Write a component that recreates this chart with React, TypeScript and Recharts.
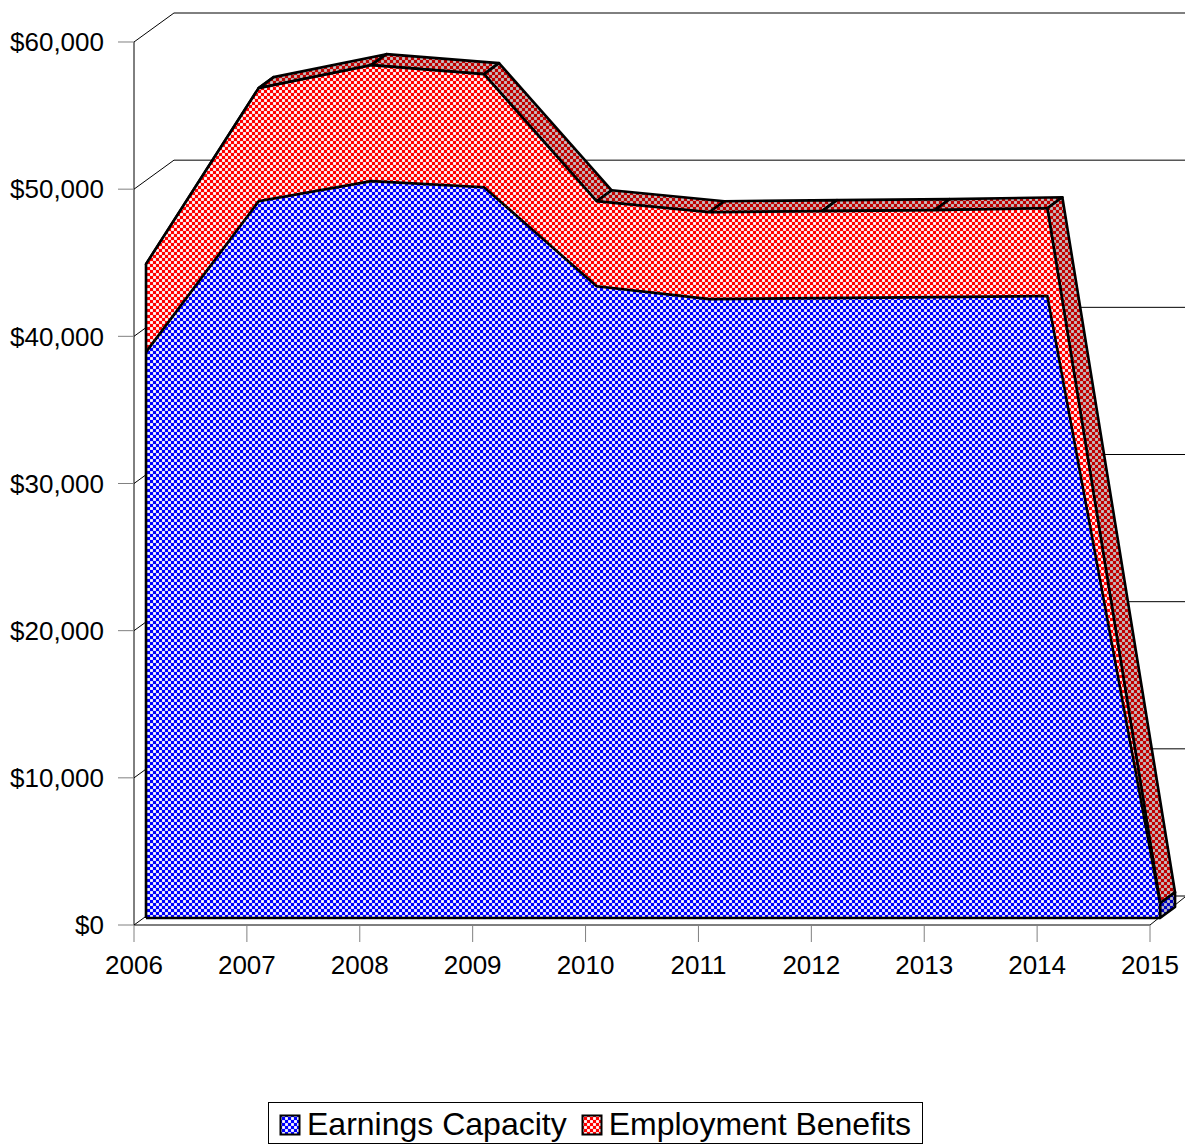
import React from 'react';
import {
    AreaChart,
    Area,
    XAxis,
    YAxis,
    Legend,
    ReferenceLine,
} from 'recharts';

const YEARS = [2006, 2007, 2008, 2009, 2010, 2011, 2012, 2013, 2014, 2015];
const EARNINGS = [38450, 48700, 50070, 49660, 42930, 42050, 42120, 42190, 42260, 1000];
const BENEFITS = [5980, 7690, 7880, 7680, 5770, 5910, 5910, 5910, 5970, 0];
const DOLLAR_TICKS = [0, 10000, 20000, 30000, 40000, 50000, 60000];

const SERIES_NAMES = ['Earnings Capacity', 'Employment Benefits'];

const chartData = YEARS.map((year, i) => ({
    year,
    earnings: EARNINGS[i],
    benefits: BENEFITS[i],
    total: EARNINGS[i] + BENEFITS[i],
}));

// depth of the extruded band, in pixels
const DEPTH_X = 15;
const DEPTH_Y = -11;

// the walls sit behind the axes by this much, in axis units
const WALL_X = 0.354;
const WALL_Y = 1970;
const X_MAX = 2015.31;
const Y_MAX = 61970;

// stacking order of the layers
const Z_WALLS = 50;
const Z_FACES = 100;
const Z_BENEFITS = 700;
const Z_EARNINGS = 750;
const Z_EDGES = 800;

const money = (v: number) => `$${v.toLocaleString('en-US')}`;

const Checker = ({ id, on, off }: { id: string; on: string; off: string }) => (
    <pattern id={id} width={6} height={6} patternUnits="userSpaceOnUse">
        <rect width={6} height={6} fill={on} />
        <rect x={3.1} y={0.1} width={2.8} height={2.8} fill={off} />
        <rect x={0.1} y={3.1} width={2.8} height={2.8} fill={off} />
    </pattern>
);

// Draws the side face leaving each point, plus the end cap on the last one.
const FaceDot = (props: any) => {
    const { cx, cy, index, points, payload } = props;
    if (!points || cx == null) return null;
    const next = points[index + 1];
    const outline = { stroke: '#000', strokeWidth: 2.6, strokeLinejoin: 'round' as const };
    if (next) {
        const d = `M${cx},${cy}L${next.x},${next.y}L${next.x + DEPTH_X},${next.y + DEPTH_Y}L${cx + DEPTH_X},${cy + DEPTH_Y}Z`;
        return <path key={index} d={d} fill="url(#sideRed)" {...outline} />;
    }
    const first = points[0];
    const perDollar = (cy - first.y) / (chartData[0].total - payload.total);
    const base = cy + payload.total * perDollar;
    const cap = `M${cx},${cy}L${cx},${base}L${cx + DEPTH_X},${base + DEPTH_Y}L${cx + DEPTH_X},${cy + DEPTH_Y}Z`;
    return <path key={index} d={cap} fill="url(#sideBlue)" {...outline} />;
};

const LegendBox = () => (
    <div
        style={{
            display: 'flex',
            alignItems: 'center',
            boxSizing: 'border-box',
            width: 655,
            height: 42,
            paddingTop: 3,
            border: '1px solid #000',
            fontSize: 32,
            color: '#000',
            whiteSpace: 'nowrap',
        }}
    >
        {SERIES_NAMES.map((name, i) => (
            <React.Fragment key={name}>
                <svg width={22} height={22} style={{ marginLeft: i === 0 ? 10 : 14, marginRight: 6 }}>
                    <rect x={1.5} y={1.5} width={19} height={19} fill={i === 0 ? 'url(#frontBlue)' : 'url(#frontRed)'} stroke="#000" strokeWidth={2} />
                </svg>
                <span>{name}</span>
            </React.Fragment>
        ))}
    </div>
);

export default function App() {
    const lineProps = { stroke: '#000', strokeWidth: 1, zIndex: Z_WALLS };
    const edgeProps = { stroke: '#000', strokeWidth: 2.6 };
    const lastYear = YEARS[YEARS.length - 1];
    const lastTotal = chartData[chartData.length - 1].total;

    return (
        <div style={{ position: 'absolute', left: 0, top: 0, fontFamily: '"Liberation Sans", Arial, sans-serif' }}>
            <AreaChart
                width={1185}
                height={1145}
                data={chartData}
                margin={{ top: 13, right: 0, bottom: 0, left: 0 }}
            >
                <defs>
                    <Checker id="frontBlue" on="#0000ff" off="#ffffff" />
                    <Checker id="frontRed" on="#ff0000" off="#ffffff" />
                    <Checker id="sideRed" on="#c00000" off="#c4c4c4" />
                    <Checker id="sideBlue" on="#0000c0" off="#c4c4c4" />
                </defs>

                <XAxis
                    dataKey="year"
                    type="number"
                    domain={[2006, X_MAX]}
                    ticks={YEARS}
                    allowDataOverflow
                    height={177}
                    axisLine={false}
                    tickLine={{ stroke: '#808080' }}
                    tickSize={17}
                    tickMargin={14}
                    tick={{ fontSize: 26, fill: '#000' }}
                />
                <YAxis
                    type="number"
                    domain={[0, Y_MAX]}
                    ticks={DOLLAR_TICKS}
                    allowDataOverflow
                    width={134}
                    axisLine={false}
                    tickLine={{ stroke: '#808080' }}
                    tickSize={16}
                    tickMargin={14}
                    tickFormatter={money}
                    tick={{ fontSize: 26, fill: '#000' }}
                />
                {/* front plane of the band, nudged off the axes */}
                <XAxis xAxisId="front" dataKey="year" type="number" domain={[2005.8935, 2015.2216]} allowDataOverflow hide />
                <YAxis yAxisId="front" type="number" domain={[-476, 61494]} allowDataOverflow hide />

                {/* walls and floor */}
                <ReferenceLine segment={[{ x: 2006, y: 0 }, { x: 2006, y: 60000 }]} {...lineProps} />
                <ReferenceLine segment={[{ x: 2006, y: 0 }, { x: lastYear, y: 0 }]} {...lineProps} />
                <ReferenceLine segment={[{ x: lastYear, y: 0 }, { x: X_MAX, y: 1902 }]} {...lineProps} />
                {DOLLAR_TICKS.map(v => (
                    <ReferenceLine key={`side-${v}`} segment={[{ x: 2006, y: v }, { x: 2006 + WALL_X, y: v + WALL_Y }]} {...lineProps} />
                ))}
                {DOLLAR_TICKS.map(v => (
                    <ReferenceLine key={`back-${v}`} segment={[{ x: 2006 + WALL_X, y: v + WALL_Y }, { x: X_MAX, y: v + WALL_Y }]} {...lineProps} />
                ))}

                <Area
                    xAxisId="front"
                    yAxisId="front"
                    dataKey="total"
                    fill="none"
                    stroke="none"
                    legendType="none"
                    dot={FaceDot}
                    zIndex={Z_FACES}
                    isAnimationActive={false}
                />
                <Area
                    xAxisId="front"
                    yAxisId="front"
                    dataKey="earnings"
                    name={SERIES_NAMES[0]}
                    stackId="front"
                    fill="url(#frontBlue)"
                    fillOpacity={1}
                    zIndex={Z_EARNINGS}
                    {...edgeProps}
                    isAnimationActive={false}
                />
                <Area
                    xAxisId="front"
                    yAxisId="front"
                    dataKey="benefits"
                    name={SERIES_NAMES[1]}
                    stackId="front"
                    fill="url(#frontRed)"
                    fillOpacity={1}
                    zIndex={Z_BENEFITS}
                    {...edgeProps}
                    isAnimationActive={false}
                />

                {/* closing edges of the front plane */}
                <ReferenceLine xAxisId="front" yAxisId="front" zIndex={Z_EDGES} segment={[{ x: 2006, y: 0 }, { x: lastYear, y: 0 }]} {...edgeProps} />
                <ReferenceLine xAxisId="front" yAxisId="front" zIndex={Z_EDGES} segment={[{ x: 2006, y: 0 }, { x: 2006, y: chartData[0].total }]} {...edgeProps} />
                <ReferenceLine xAxisId="front" yAxisId="front" zIndex={Z_EDGES} segment={[{ x: lastYear, y: 0 }, { x: lastYear, y: lastTotal }]} {...edgeProps} />

                <Legend
                    content={<LegendBox />}
                    verticalAlign="bottom"
                    height={43}
                    wrapperStyle={{ left: 268, bottom: 0, width: 655 }}
                />
            </AreaChart>
        </div>
    );
}
